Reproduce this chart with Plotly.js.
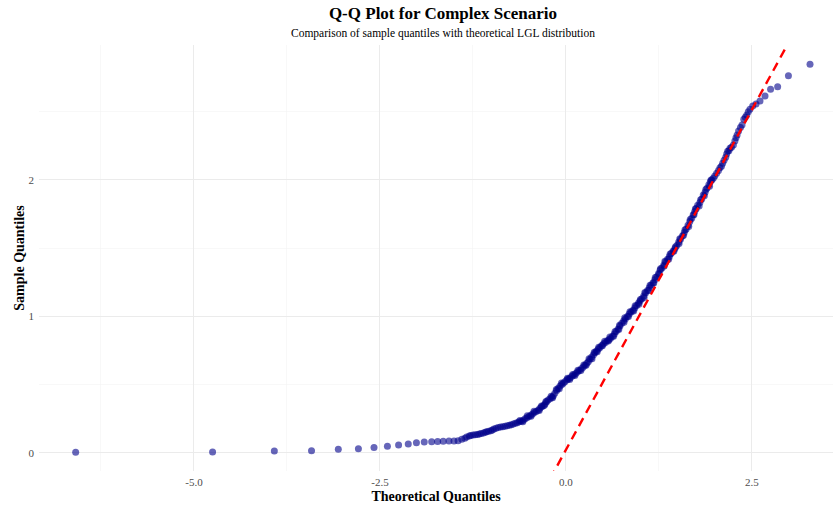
<!DOCTYPE html>
<html>
<head>
<meta charset="utf-8">
<script src="https://cdn.plot.ly/plotly-3.0.1.min.js"></script>
<style>html,body{margin:0;padding:0;background:#fff;}#chart{width:833px;height:507px;}</style>
</head>
<body>
<div id="chart"></div>
<script>
// Theoretical quantiles (x) and sample quantiles (y)
const theoretical = [
-6.59,-4.75,-3.92,-3.42,-3.06,-2.79,-2.58,-2.40,-2.25,-2.12,-2.01,-1.905,-1.805,-1.725,-1.65,-1.573,-1.505,-1.45,
-1.40,-1.36,-1.335,-1.30,-1.28,-1.25,-1.22,-1.19,-1.165,-1.14,-1.11,-1.085,-1.066,-1.04,-1.01,-0.99,-0.968,-0.94,
-0.91,-0.88,-0.85,-0.82,-0.79,-0.76,-0.735,-0.708,-0.68,-0.655,-0.63,-0.60,-0.574,-0.55,-0.525,-0.50,-0.475,-0.45,
-0.425,-0.40,-0.372,-0.35,-0.325,-0.305,-0.28,-0.26,-0.24,-0.215,-0.19,-0.17,-0.15,-0.125,-0.105,-0.08,-0.055,-0.036,
-0.015,0.01,0.03,0.054,0.08,0.105,0.13,0.155,0.18,0.205,0.23,0.255,0.28,0.30,0.323,0.345,0.37,0.39,0.41,0.435,
0.457,0.48,0.505,0.53,0.555,0.58,0.60,0.625,0.65,0.675,0.70,0.726,0.75,0.775,0.80,0.825,0.85,0.875,0.90,0.925,
0.95,0.975,0.995,1.02,1.045,1.07,1.095,1.12,1.145,1.17,1.195,1.22,1.245,1.265,1.29,1.315,1.34,1.365,1.39,1.415,
1.44,1.465,1.49,1.515,1.54,1.565,1.59,1.615,1.64,1.665,1.69,1.71,1.73,1.75,1.77,1.80,1.825,1.845,1.87,1.895,
1.92,1.94,1.96,1.98,2.0,2.025,2.05,2.07,2.09,2.106,2.125,2.147,2.16,2.173,2.19,2.204,2.225,2.25,2.27,2.285,
2.30,2.32,2.345,2.366,2.39,2.41,2.43,2.45,2.473,2.51,2.554,2.608,2.675,2.75,2.845,2.99,3.28
];
const sample = [
0.005,0.007,0.015,0.017,0.027,0.031,0.041,0.049,0.059,0.066,0.075,0.080,0.083,0.085,0.086,0.087,0.088,0.090,
0.100,0.108,0.117,0.124,0.128,0.131,0.134,0.136,0.139,0.142,0.146,0.151,0.156,0.159,0.163,0.169,0.176,0.182,
0.186,0.19,0.193,0.196,0.199,0.203,0.207,0.212,0.217,0.222,0.228,0.233,0.24,0.25,0.259,0.268,0.277,0.286,
0.296,0.304,0.315,0.327,0.338,0.346,0.36,0.375,0.388,0.397,0.408,0.42,0.438,0.458,0.474,0.49,0.502,0.51,
0.522,0.535,0.542,0.55,0.562,0.572,0.582,0.593,0.605,0.617,0.628,0.642,0.657,0.668,0.687,0.703,0.72,0.735,0.748,0.762,
0.773,0.787,0.80,0.81,0.822,0.832,0.84,0.855,0.872,0.89,0.908,0.93,0.95,0.968,0.983,1.0,1.018,1.032,1.045,1.062,
1.08,1.098,1.113,1.13,1.15,1.172,1.19,1.21,1.228,1.248,1.27,1.292,1.315,1.338,1.356,1.378,1.4,1.42,1.44,1.462,
1.48,1.498,1.52,1.545,1.565,1.59,1.615,1.64,1.668,1.695,1.72,1.745,1.77,1.79,1.815,1.835,1.86,1.89,1.91,1.94,
1.965,1.988,2.0,2.012,2.03,2.049,2.07,2.09,2.1,2.122,2.145,2.166,2.19,2.21,2.215,2.232,2.24,2.256,2.285,2.31,
2.33,2.359,2.385,2.403,2.445,2.46,2.476,2.50,2.518,2.542,2.557,2.579,2.615,2.664,2.684,2.764,2.848
];
// Further points in the dense band (its upper and lower edges)
const theoreticalBand = [
-0.62,-0.52,-0.43,-0.33,-0.27,-0.20,-0.13,-0.06,0.02,0.09,0.16,0.24,0.31,0.38,0.44,0.52,0.59,0.66,0.72,0.79,
0.86,0.93,1.0,1.06,1.13,1.2,1.27,1.33,1.4,1.47,1.53,1.6,1.67,1.74,1.81,1.88,1.95,
-0.58,-0.47,-0.36,-0.29,-0.18,-0.09,0.05,0.12,0.2,0.27,0.35,0.42,0.49,0.57,0.64,0.71,0.78,0.84,0.91,0.98,
1.05,1.11,1.18,1.25,1.32,1.38,1.45,1.52,1.58,1.65,1.72,1.79,1.86,1.93
];
const sampleBand = [
0.238,0.272,0.305,0.345,0.378,0.415,0.465,0.512,0.548,0.575,0.607,0.645,0.69,0.738,0.775,0.818,0.85,0.89,0.935,0.99,
1.035,1.078,1.125,1.175,1.228,1.285,1.35,1.405,1.458,1.51,1.57,1.635,1.71,1.79,1.855,1.93,2.0,
0.228,0.27,0.312,0.35,0.405,0.47,0.538,0.568,0.605,0.643,0.69,0.742,0.785,0.82,0.855,0.905,0.958,1.0,1.04,1.09,
1.14,1.19,1.245,1.31,1.37,1.42,1.478,1.535,1.595,1.66,1.745,1.81,1.885,1.955
];
// Reference line (intercept, slope) and the x span it is drawn over
const refIntercept = 0.024;
const refSlope = 0.997;
const refSpan = [-0.6, 3.6];

const xTickVals = [-5, -2.5, 0, 2.5];
const xTickText = ['-5.0', '-2.5', '0.0', '2.5'];
const yTickVals = [0, 1, 2];
const yTickText = ['0', '1', '2'];

const serif = 'Liberation Serif, Times New Roman, serif';
const markerStyle = {color: 'rgba(0,0,139,0.6)', size: 7, line: {width: 0}};

const points = {
  x: theoretical.concat(theoreticalBand), y: sample.concat(sampleBand),
  type: 'scatter', mode: 'markers', marker: markerStyle,
  hoverinfo: 'x+y', showlegend: false
};
const refLine = {
  x: refSpan, y: refSpan.map(v => refIntercept + refSlope * v),
  type: 'scatter', mode: 'lines',
  line: {color: '#FF0000', width: 2.4, dash: '9px,6px'},
  showlegend: false, hoverinfo: 'skip'
};

const layout = {
  width: 833, height: 507,
  margin: {l: 39, r: 0, t: 45, b: 36},
  paper_bgcolor: '#fff', plot_bgcolor: '#fff',
  font: {family: serif, color: '#000'},
  title: {
    text: '<b>Q-Q Plot for Complex Scenario</b>',
    font: {family: serif, size: 17, color: '#000'},
    x: 443 / 833, xref: 'container', xanchor: 'center',
    y: 1 - 13 / 507, yref: 'container', yanchor: 'middle'
  },
  annotations: [{
    text: 'Comparison of sample quantiles with theoretical LGL distribution',
    font: {family: serif, size: 11.5, color: '#000'},
    xref: 'paper', yref: 'paper', x: (443 - 39) / 794, y: (471 - 33) / 426,
    xanchor: 'center', yanchor: 'middle', showarrow: false
  }],
  xaxis: {
    range: [-7.083, 3.589], autorange: false,
    tickmode: 'array', tickvals: xTickVals, ticktext: xTickText,
    tickfont: {family: serif, size: 11, color: '#4D4D4D'},
    ticks: '', showline: false, zeroline: false, ticklabelstandoff: 3,
    showgrid: true, gridcolor: '#EBEBEB', gridwidth: 1,
    minor: {tickmode: 'linear', tick0: 1.25, dtick: 2.5, showgrid: true, gridcolor: '#F4F4F4', gridwidth: 0.6},
    title: {text: '<b>Theoretical Quantiles</b>', font: {family: serif, size: 14, color: '#000'}, standoff: 4},
    automargin: false
  },
  yaxis: {
    range: [-0.132, 2.989], autorange: false,
    tickmode: 'array', tickvals: yTickVals, ticktext: yTickText,
    tickfont: {family: serif, size: 11, color: '#4D4D4D'},
    ticks: '', showline: false, zeroline: false, ticklabelstandoff: 4,
    showgrid: true, gridcolor: '#EBEBEB', gridwidth: 1,
    minor: {tickmode: 'linear', tick0: 0.5, dtick: 1, showgrid: true, gridcolor: '#F4F4F4', gridwidth: 0.6},
    title: {text: '<b>Sample Quantiles</b>', font: {family: serif, size: 14, color: '#000'}, standoff: 0},
    automargin: false
  }
};

Plotly.newPlot('chart', [points, refLine], layout, {displayModeBar: false, staticPlot: true});
</script>
</body>
</html>
